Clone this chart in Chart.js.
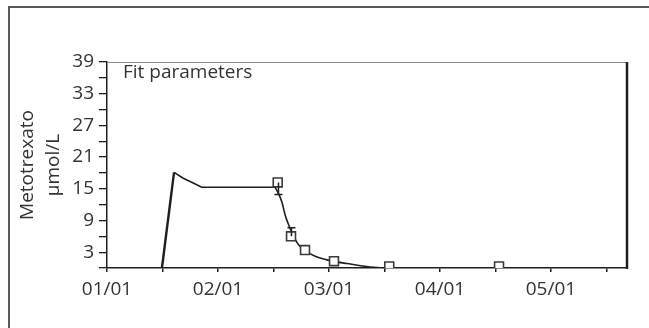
<!DOCTYPE html>
<html>
<head>
<meta charset="utf-8">
<script src="https://cdn.jsdelivr.net/npm/chart.js@4/dist/chart.umd.min.js"></script>
<style>
  html, body { margin: 0; padding: 0; background: #fff; }
  #wrap { position: relative; width: 649px; height: 328px; overflow: hidden; }
  #frame { position: absolute; left: 8px; top: 6px; width: 700px; height: 400px; border: 2px solid #5a5a5a; box-sizing: border-box; }
  canvas { position: absolute; left: 0; top: 0; }
</style>
</head>
<body>
<div id="wrap">
  <div id="frame"></div>
  <canvas id="c" width="649" height="328"></canvas>
</div>
<script>
// ---- data (x in months from 01/01, y in µmol/L) ----
const fitX = [0.495, 0.604, 0.687, 0.777, 0.853, 1.514, 1.550, 1.577, 1.604, 1.640, 1.676, 1.712, 1.757, 1.811, 1.892, 2.009, 2.162, 2.369, 2.505];
const fitY = [0, 18.1, 17.0, 16.1, 15.3, 15.3, 13.9, 12.4, 10.1, 8.0, 6.3, 4.8, 3.7, 2.9, 2.1, 1.4, 0.85, 0.2, 0];
const decayStart = 5; // index where the smooth elimination phase begins
const obsX = [1.538, 1.658, 1.784, 2.045, 2.543, 3.532];
const obsY = [16.2, 6.0, 3.4, 1.3, 0.3, 0.3];
const errX = [1.545, 1.662];
const errFrom = [16.2, 6.0];
const errTo = [13.9, 7.6];
const xTickValues = [0, 0.5, 1, 1.5, 2, 2.5, 3, 3.5, 4, 4.5];
const xTickLabels = ["01/01", "", "02/01", "", "03/01", "", "04/01", "", "05/01", ""];
const yTickValues = [0, 3, 6, 9, 12, 15, 18, 21, 24, 27, 30, 33, 36, 39];
const yTickLabels = ["", "3", "", "9", "", "15", "", "21", "", "27", "", "33", "", "39"];
const yTitle = ["Metotrexato", "µmol/L"];
const annotationText = "Fit parameters";

const FONT = "'Open Sans', sans-serif";
const TXT = '#333333';
const INK = '#1e1e1e';

const fitData = fitX.map((x, i) => ({x: x, y: fitY[i]}));
const infusionData = fitData.slice(0, decayStart + 1);
const decayData = fitData.slice(decayStart);
const obsData = obsX.map((x, i) => ({x: x, y: obsY[i]}));

const decorPlugin = {
  id: 'decor',
  beforeDatasetsDraw(chart) {
    const {ctx, chartArea: a} = chart;
    ctx.save();
    ctx.strokeStyle = '#8a8a8a';
    ctx.lineWidth = 1;
    ctx.beginPath();
    ctx.moveTo(a.left, a.top + 0.5);
    ctx.lineTo(a.right, a.top + 0.5);
    ctx.stroke();
    ctx.strokeStyle = INK;
    ctx.lineWidth = 2.5;
    ctx.beginPath();
    ctx.moveTo(a.right, a.top);
    ctx.lineTo(a.right, a.bottom + 1);
    ctx.stroke();
    ctx.fillStyle = TXT;
    ctx.font = "19px " + FONT;
    ctx.textBaseline = 'alphabetic';
    ctx.textAlign = 'left';
    ctx.fillText(annotationText, a.left + 16, a.top + 16);
    ctx.restore();
  },
  afterDatasetsDraw(chart) {
    const {ctx} = chart;
    const xs = chart.scales.x, ys = chart.scales.y;
    ctx.save();
    ctx.strokeStyle = INK;
    ctx.lineWidth = 1.5;
    for (let i = 0; i < errX.length; i++) {
      const px = xs.getPixelForValue(errX[i]);
      const p1 = ys.getPixelForValue(errFrom[i]);
      const p2 = ys.getPixelForValue(errTo[i]);
      ctx.beginPath();
      ctx.moveTo(px, p1);
      ctx.lineTo(px, p2);
      ctx.moveTo(px - 4, p2);
      ctx.lineTo(px + 4, p2);
      ctx.stroke();
    }
    ctx.restore();
  }
};

new Chart(document.getElementById('c'), {
  type: 'scatter',
  data: {
    datasets: [
      {
        label: 'fit infusion',
        type: 'line',
        data: infusionData,
        borderColor: INK,
        borderWidth: 1.6,
        pointRadius: 0,
        tension: 0,
        fill: false,
        segment: { borderWidth: c => c.p0DataIndex === 0 ? 2.4 : 1.6 },
        order: 3
      },
      {
        label: 'fit elimination',
        type: 'line',
        data: decayData,
        borderColor: INK,
        borderWidth: 1.6,
        pointRadius: 0,
        cubicInterpolationMode: 'monotone',
        fill: false,
        order: 2
      },
      {
        label: 'observed',
        data: obsData,
        pointStyle: 'rect',
        pointRadius: 6.3,
        pointBorderWidth: 1.6,
        pointBorderColor: '#3a3a3a',
        pointBackgroundColor: '#ffffff',
        showLine: false,
        order: 1
      }
    ]
  },
  options: {
    responsive: false,
    animation: false,
    devicePixelRatio: 1,
    layout: { padding: { top: 62, right: 22, left: 0, bottom: 0 } },
    plugins: { legend: { display: false }, tooltip: { enabled: false } },
    scales: {
      x: {
        type: 'linear',
        min: 0,
        max: 4.685,
        afterBuildTicks: s => { s.ticks = xTickValues.map(v => ({value: v})); },
        afterFit: s => { s.height = 60; },
        border: { display: true, color: INK, width: 1.5 },
        grid: { drawOnChartArea: false, drawTicks: true, tickLength: 4, color: INK, lineWidth: 1.5 },
        ticks: {
          padding: 6,
          autoSkip: false,
          maxRotation: 0,
          color: TXT,
          font: { family: FONT, size: 19 },
          callback: (v, i) => xTickLabels[i]
        }
      },
      y: {
        type: 'linear',
        min: 0,
        max: 39,
        afterBuildTicks: s => { s.ticks = yTickValues.map(v => ({value: v})); },
        afterFit: s => { s.width = 107; },
        border: { display: true, color: INK, width: 1.5 },
        grid: { drawOnChartArea: false, drawTicks: true, tickLength: 8, color: INK, lineWidth: 1.3 },
        title: {
          display: true,
          text: yTitle,
          color: TXT,
          font: { family: FONT, size: 19, lineHeight: 1.37 },
          padding: { top: 15, bottom: 0 }
        },
        ticks: {
          padding: 5,
          autoSkip: false,
          color: TXT,
          font: { family: FONT, size: 19 },
          callback: (v, i) => yTickLabels[i]
        }
      }
    }
  },
  plugins: [decorPlugin]
});
</script>
</body>
</html>
